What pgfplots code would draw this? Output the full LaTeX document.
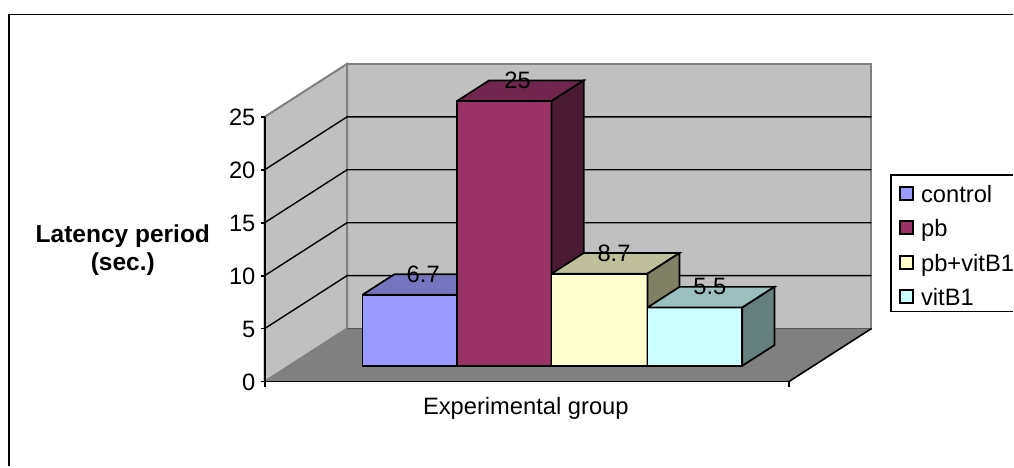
\documentclass[border=0pt]{standalone}
\usepackage{fontspec}
\setmainfont{Liberation Sans}
\usepackage{pgfplots}
\pgfplotsset{compat=1.18}
\definecolor{cA}{HTML}{9999FF}\definecolor{tA}{HTML}{7575C0}\definecolor{sA}{HTML}{4D4D80}
\definecolor{cB}{HTML}{993366}\definecolor{tB}{HTML}{73264D}\definecolor{sB}{HTML}{4D1A33}
\definecolor{cC}{HTML}{FFFFCC}\definecolor{tC}{HTML}{BFBF99}\definecolor{sC}{HTML}{808066}
\definecolor{cD}{HTML}{CCFFFF}\definecolor{tD}{HTML}{99BFBF}\definecolor{sD}{HTML}{668080}
\definecolor{wall}{HTML}{C0C0C0}
\definecolor{flr}{HTML}{808080}
\newcommand\fs{\fontsize{17.8pt}{21pt}\selectfont}
\newcommand\fb{\fontsize{18.4pt}{20.5pt}\selectfont\bfseries}
% one 3-D bar: x from #1 to #2, value #3, colours #4 #5 #6
\newcommand\tdbar[6]{%
  \addplot3[draw=black,line width=1.3pt,fill=#4,line join=miter] coordinates {(#1,0.298,0)(#2,0.298,0)(#2,0.298,#3)(#1,0.298,#3)(#1,0.298,0)};
  \addplot3[draw=black,line width=1.3pt,fill=#5,line join=miter] coordinates {(#1,0.298,#3)(#2,0.298,#3)(#2,0.688,#3)(#1,0.688,#3)(#1,0.298,#3)};
  \addplot3[draw=black,line width=1.3pt,fill=#6,line join=miter] coordinates {(#2,0.298,0)(#2,0.688,0)(#2,0.688,#3)(#2,0.298,#3)(#2,0.298,0)};
}
\begin{document}
\begin{tikzpicture}
\begin{scope}[x=0.75pt,y=-0.75pt,shift={(-198.75pt,286.5pt)}]
  \path[fill=white] (0,0) rectangle (1014,467);
  \draw[black,line width=1.4pt] (9,467) -- (9,14.5) -- (1014,14.5);
\end{scope}
\begin{axis}[
  at={(0pt,0pt)},anchor=origin,
  x={(0.75pt,0pt)},y={(61.875pt,39.75pt)},z={(0pt,7.95pt)},
  xmin=0,xmax=525,ymin=0,ymax=1,zmin=0,zmax=25,
  hide axis,clip=false,
]
% walls and floor
\addplot3[draw=flr,line width=1.5pt,fill=wall] coordinates {(0,1,0)(525,1,0)(525,1,25)(0,1,25)(0,1,0)};
\addplot3[draw=flr,line width=1.5pt,fill=wall] coordinates {(0,0,0)(0,1,0)(0,1,25)(0,0,25)(0,0,0)};
\addplot3[draw=none,fill=flr] coordinates {(0,0,0)(525,0,0)(525,1,0)(0,1,0)(0,0,0)};
% floor edges
\addplot3[draw=black!65,line width=1.1pt] coordinates {(0,1,0)(525,1,0)};
\addplot3[draw=black,line width=1.2pt] coordinates {(525,0,0)(525,1,0)};
% grid
\addplot3[black,line width=1.05pt] coordinates {(0,0,5)(0,1,5)(525,1,5)};
\addplot3[black,line width=1.05pt] coordinates {(0,0,10)(0,1,10)(525,1,10)};
\addplot3[black,line width=1.05pt] coordinates {(0,0,15)(0,1,15)(525,1,15)};
\addplot3[black,line width=1.05pt] coordinates {(0,0,20)(0,1,20)(525,1,20)};
% bars
\tdbar{73.3}{168}{6.7}{cA}{tA}{sA}
\tdbar{168}{262.7}{25}{cB}{tB}{sB}
\tdbar{262.7}{358.7}{8.7}{cC}{tC}{sC}
\tdbar{358.7}{453.7}{5.5}{cD}{tD}{sD}
% axis lines
\addplot3[black,line width=1.3pt] coordinates {(0,0,25)(0,0,0)(525,0,0)};
% value labels
\node[font=\fs,inner sep=0pt] at (axis cs:102,0.688,6.7) {6.7};
\node[font=\fs,inner sep=0pt] at (axis cs:196.5,0.688,25) {25};
\node[font=\fs,inner sep=0pt] at (axis cs:293,0.688,8.7) {8.7};
\node[font=\fs,inner sep=0pt] at (axis cs:389,0.688,5.5) {5.5};
\end{axis}
\begin{scope}[x=0.75pt,y=-0.75pt,shift={(-198.75pt,286.5pt)}]
  % ticks
  \foreach \v/\p in {0/382,5/329,10/276,15/223,20/170,25/117}{
    \draw[black,line width=1.3pt] (261,\p) -- (265,\p);
    \node[font=\fs,anchor=east,inner sep=0pt] at (256,\p+0.5) {\v};
  }
  \draw[black,line width=1.3pt] (265,382) -- (265,387);
  \draw[black,line width=1.3pt] (790,382) -- (790,387);
  \node[font=\fs,inner sep=0pt] at (526.5,408.5) {Experimental group};
  \node[font=\fb,align=center,inner sep=0pt] at (123,250.5) {Latency period\\(sec.)};
  % legend
  \path[fill=white] (892,175.5) rectangle (1014,312);
  \draw[black,line width=1.3pt] (1014,175.5) -- (892,175.5) -- (892,312) -- (1014,312);
  \foreach \c/\p/\t in {cA/194/control,cB/228/pb,cC/263/pb+vitB1,cD/297/vitB1}{
    \draw[black,line width=1.3pt,fill=\c] (901.5,\p-6.5) rectangle (914.5,\p+6.5);
    \node[font=\fs,anchor=base west,inner sep=0pt] at (922,\p+8.5) {\t};
  }
\end{scope}
\end{tikzpicture}
\end{document}
